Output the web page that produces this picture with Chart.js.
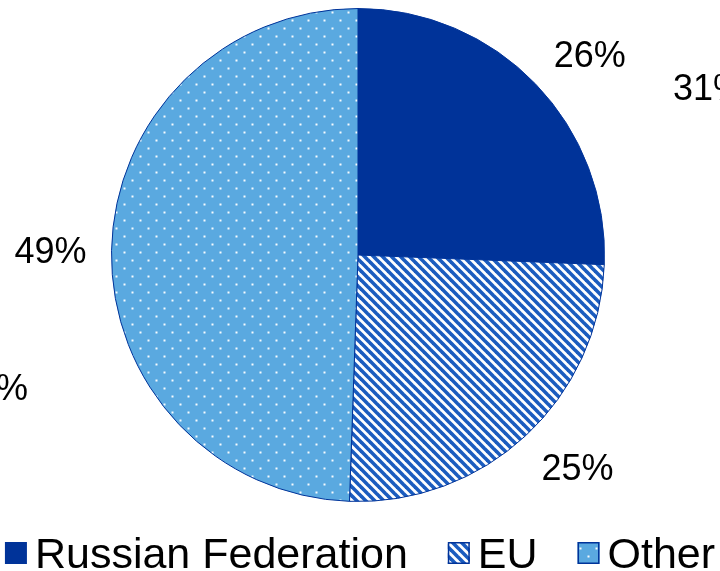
<!DOCTYPE html>
<html>
<head>
<meta charset="utf-8">
<script src="https://cdn.jsdelivr.net/npm/chart.js@4.4.1/dist/chart.umd.min.js"></script>
<style>
    html, body { margin: 0; padding: 0; background: #ffffff; }
    #pieChart { display: block; }
</style>
</head>
<body>
<canvas id="pieChart" width="720" height="571"></canvas>
<script>
const categories = ['Russian Federation', 'EU', 'Other'];
const shares = [25.6, 24.9, 49.4];
// fragments of the neighbouring charts' labels that are cut off at the edges
const edgeLabels = ['31%', '%'];

const FONT = '"Liberation Sans", Arial, Helvetica, sans-serif';
const DARK_BLUE = '#003399';
const LIGHT_BLUE = '#5aa9e0';

// Hatch pattern for EU: blue "\" stripes on white
const makeHatch = () => {
    const s = 9;
    const tile = document.createElement('canvas');
    tile.width = s;
    tile.height = s;
    const ctx = tile.getContext('2d');
    ctx.fillStyle = '#ffffff';
    ctx.fillRect(0, 0, s, s);
    ctx.strokeStyle = '#1b5cbf';
    ctx.lineWidth = 3.6;
    [-s, 0, s].forEach(x0 => {
        ctx.beginPath();
        ctx.moveTo(x0 - 2, -2);
        ctx.lineTo(x0 + s + 2, s + 2);
        ctx.stroke();
    });
    return ctx.createPattern(tile, 'repeat');
};

// Dotted pattern for Other: small white dots on light blue
const makeDots = () => {
    const tile = document.createElement('canvas');
    tile.width = 16;
    tile.height = 16;
    const ctx = tile.getContext('2d');
    ctx.fillStyle = LIGHT_BLUE;
    ctx.fillRect(0, 0, 16, 16);
    ctx.fillStyle = 'rgba(255,255,255,0.95)';
    ctx.fillRect(3.5, 3.5, 2, 2);
    ctx.fillRect(11.5, 11.5, 2, 2);
    return ctx.createPattern(tile, 'repeat');
};

const fills = [DARK_BLUE, makeHatch(), makeDots()];

// Percentage labels just outside each slice (nearest edge of the text box touches a ring)
const sliceLabels = {
    id: 'sliceLabels',
    afterDatasetsDraw(chart) {
        const { ctx } = chart;
        const meta = chart.getDatasetMeta(0);
        const values = chart.data.datasets[0].data;
        const total = values.reduce((a, b) => a + b, 0);
        const capHeight = 26;
        const clamp = v => Math.max(-1, Math.min(1, v));
        ctx.save();
        ctx.font = `36px ${FONT}`;
        ctx.fillStyle = '#000000';
        ctx.textAlign = 'center';
        ctx.textBaseline = 'alphabetic';
        meta.data.forEach((arc, i) => {
            const { x, y, startAngle, endAngle, outerRadius } = arc.getProps(['x', 'y', 'startAngle', 'endAngle', 'outerRadius'], true);
            const mid = (startAngle + endAngle) / 2;
            const r = outerRadius + 25;
            const text = Math.round(values[i] / total * 100) + '%';
            const w = ctx.measureText(text).width;
            const cx = x + Math.cos(mid) * r + w / 2 * clamp(Math.cos(mid) * Math.SQRT2);
            const cy = y + Math.sin(mid) * r + capHeight / 2 * clamp(Math.sin(mid) * Math.SQRT2);
            ctx.fillText(text, cx, cy + capHeight / 2);
        });
        ctx.textAlign = 'left';
        ctx.fillText(edgeLabels[0], 673, 100);
        ctx.textAlign = 'right';
        ctx.fillText(edgeLabels[1], 28, 400);
        ctx.restore();
    }
};

// Legend row along the bottom, squares close to the text
const bottomLegend = {
    id: 'bottomLegend',
    afterDraw(chart) {
        const { ctx } = chart;
        const ds = chart.data.datasets[0];
        const box = 22;
        const textGap = 8;
        const itemGap = 40;
        ctx.save();
        ctx.font = `43px ${FONT}`;
        ctx.textBaseline = 'alphabetic';
        ctx.textAlign = 'left';
        const widths = chart.data.labels.map(l => ctx.measureText(l).width);
        const total = widths.reduce((a, w) => a + box + textGap + w, 0) + itemGap * (widths.length - 1);
        let x = (chart.width - total) / 2;
        const baseline = 568;
        chart.data.labels.forEach((label, i) => {
            ctx.fillStyle = ds.backgroundColor[i];
            ctx.fillRect(x, 542, box, box);
            if (i > 0) {
                ctx.strokeStyle = DARK_BLUE;
                ctx.lineWidth = 1.5;
                ctx.strokeRect(x + 0.75, 542.75, box - 1.5, box - 1.5);
            }
            ctx.fillStyle = '#000000';
            ctx.fillText(label, x + box + textGap, baseline);
            x += box + textGap + widths[i] + itemGap;
        });
        ctx.restore();
    }
};

new Chart(document.getElementById('pieChart'), {
    type: 'pie',
    data: {
        labels: categories,
        datasets: [{
            data: shares,
            backgroundColor: fills,
            borderColor: DARK_BLUE,
            borderWidth: 1,
            hoverOffset: 0,
            offset: 0
        }]
    },
    options: {
        responsive: false,
        animation: false,
        layout: {
            padding: { left: 111, right: 115, top: 8, bottom: 69 }
        },
        plugins: {
            legend: { display: false },
            tooltip: { enabled: false }
        }
    },
    plugins: [sliceLabels, bottomLegend]
});
</script>
</body>
</html>
